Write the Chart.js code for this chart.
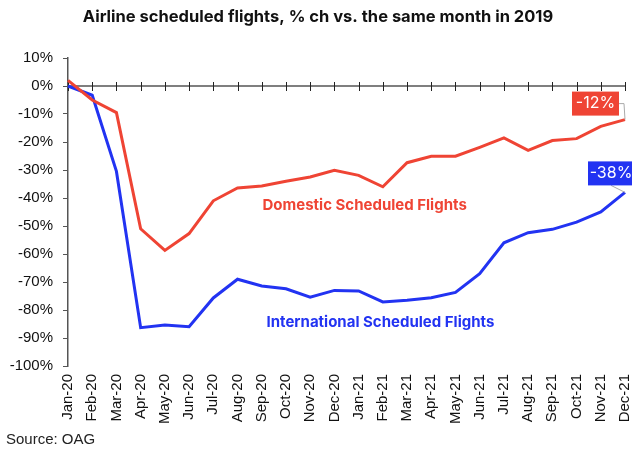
<!DOCTYPE html>
<html lang="en">
<head>
  <meta charset="UTF-8" />
  <title>Airline scheduled flights</title>
  <script src="https://cdn.jsdelivr.net/npm/chart.js"></script>
  <style>
    * { margin: 0; padding: 0; box-sizing: border-box; }
    html, body { background: #fff; width: 632px; height: 452px; overflow: hidden; }
    .wrap { position: relative; width: 632px; height: 452px; }
  </style>
</head>
<body>
  <div class="wrap"><canvas id="chart" width="632" height="452"></canvas></div>

  <script>
    // data
    const months = ["Jan-20","Feb-20","Mar-20","Apr-20","May-20","Jun-20","Jul-20","Aug-20","Sep-20","Oct-20","Nov-20","Dec-20",
                    "Jan-21","Feb-21","Mar-21","Apr-21","May-21","Jun-21","Jul-21","Aug-21","Sep-21","Oct-21","Nov-21","Dec-21"];
    const domestic = [2, -5, -9.5, -51, -58.7, -52.7, -41, -36.4, -35.7, -34, -32.5, -30.1,
                      -31.9, -36, -27.4, -25.1, -25.1, -21.9, -18.5, -23, -19.5, -18.8, -14.4, -12];
    const international = [0, -3.3, -30.5, -86.3, -85.4, -86, -75.7, -69, -71.4, -72.4, -75.4, -73,
                           -73.2, -77.1, -76.5, -75.6, -73.7, -67, -56, -52.4, -51.2, -48.6, -45, -38];
    const yTicks = [10, 0, -10, -20, -30, -40, -50, -60, -70, -80, -90, -100];

    const RED = "#EF4434";
    const BLUE = "#2233F2";
    const AXIS = "#555";

    // zero line with month ticks, drawn under the lines
    const zeroAxis = {
      id: "zeroAxis",
      beforeDatasetsDraw(chart) {
        const { ctx, chartArea, scales: { x, y } } = chart;
        const y0 = y.getPixelForValue(0);
        ctx.save();
        ctx.strokeStyle = AXIS;
        ctx.lineWidth = 1.5;
        ctx.beginPath();
        ctx.moveTo(chartArea.left, y0);
        ctx.lineTo(chartArea.right, y0);
        ctx.stroke();
        ctx.strokeStyle = "#222";
        ctx.lineWidth = 1;
        ctx.beginPath();
        months.forEach((m, i) => {
          const px = Math.round(x.getPixelForValue(i)) + 0.5;
          ctx.moveTo(px, y0 - 4);
          ctx.lineTo(px, y0 + 5);
        });
        ctx.stroke();
        ctx.restore();
      }
    };

    // series names, end value boxes, title and source
    const labels = {
      id: "labels",
      afterDatasetsDraw(chart) {
        const { ctx, scales: { x, y } } = chart;
        const last = months.length - 1;
        ctx.save();

        ctx.font = "bold 15px Inter, 'Liberation Sans', sans-serif";
        ctx.textAlign = "center";
        ctx.textBaseline = "middle";
        ctx.fillStyle = RED;
        ctx.fillText("Domestic Scheduled Flights", x.getPixelForValue(12.25), y.getPixelForValue(-42.5));
        ctx.fillStyle = BLUE;
        ctx.fillText("International Scheduled Flights", x.getPixelForValue(12.9), y.getPixelForValue(-84.3));

        // end labels
        const px = x.getPixelForValue(last);
        const pyD = y.getPixelForValue(domestic[last]);
        const pyI = y.getPixelForValue(international[last]);

        ctx.strokeStyle = "#aaa";
        ctx.lineWidth = 1;
        ctx.beginPath();
        ctx.moveTo(px - 6, pyD - 16);
        ctx.lineTo(px - 1, pyD - 16);
        ctx.lineTo(px, pyD);
        ctx.moveTo(px - 14, pyI - 7);
        ctx.lineTo(px, pyI);
        ctx.stroke();

        ctx.font = "16px Inter, 'Liberation Sans', sans-serif";
        ctx.fillStyle = RED;
        ctx.fillRect(px - 53, pyD - 28, 47, 24);
        ctx.fillStyle = "#fff";
        ctx.fillText(Math.round(domestic[last]) + "%", px - 29.5, pyD - 16);

        ctx.fillStyle = BLUE;
        ctx.fillRect(px - 37, pyI - 31, 47, 24);
        ctx.fillStyle = "#fff";
        ctx.fillText(Math.round(international[last]) + "%", px - 14, pyI - 19);

        // title and source
        ctx.fillStyle = "#111";
        ctx.font = "bold 16.5px Inter, 'Liberation Sans', sans-serif";
        ctx.fillText("Airline scheduled flights, % ch vs. the same month in 2019", 318, 17);
        ctx.textAlign = "left";
        ctx.font = "15px 'Liberation Sans', Arial, sans-serif";
        ctx.fillStyle = "#222";
        ctx.fillText("Source: OAG", 6, 440);
        ctx.restore();
      }
    };

    new Chart(document.getElementById("chart"), {
      type: "line",
      data: {
        labels: months,
        datasets: [
          { label: "Domestic Scheduled Flights", data: domestic, borderColor: RED, borderWidth: 3, pointRadius: 0, tension: 0 },
          { label: "International Scheduled Flights", data: international, borderColor: BLUE, borderWidth: 3, pointRadius: 0, tension: 0 }
        ]
      },
      options: {
        responsive: false,
        animation: false,
        layout: { padding: { top: 58, right: 7, left: 0, bottom: 0 } },
        plugins: { legend: { display: false }, tooltip: { enabled: false } },
        scales: {
          x: {
            offset: false,
            grid: { display: false },
            border: { display: false },
            afterFit: s => { s.height = 86; s.paddingLeft = 0; s.paddingRight = 0; },
            ticks: {
              minRotation: 90, maxRotation: 90, autoSkip: false, padding: 0,
              color: "#111", font: { family: "'Liberation Sans', Arial, sans-serif", size: 15 }
            }
          },
          y: {
            min: -100, max: 10,
            afterFit: s => { s.width = 68; s.paddingTop = 0; s.paddingBottom = 0; },
            afterBuildTicks: s => { s.ticks = yTicks.map(v => ({ value: v })); },
            grid: { drawOnChartArea: false, drawTicks: true, tickLength: 5, color: AXIS },
            border: { display: true, color: AXIS, width: 1.5 },
            ticks: {
              padding: 10, color: "#111",
              font: { family: "'Liberation Sans', Arial, sans-serif", size: 15 },
              callback: v => v + "%"
            }
          }
        }
      },
      plugins: [zeroAxis, labels]
    });
  </script>
</body>
</html>
